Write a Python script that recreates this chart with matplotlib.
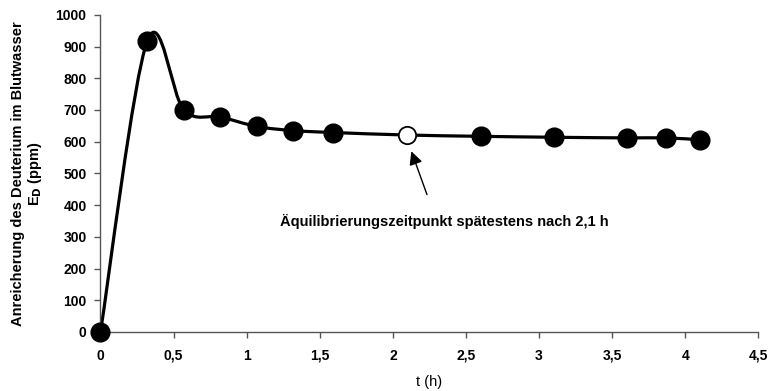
import numpy as np
import matplotlib.pyplot as plt
from matplotlib.path import Path
from matplotlib.patches import PathPatch

plt.rcParams['font.family'] = ['Liberation Sans', 'DejaVu Sans']

# Messzeitpunkte (h) und Deuterium-Anreicherung (ppm)
zeit = [0, 0.32, 0.57, 0.82, 1.07, 1.32, 1.59, 2.1, 2.6, 3.1, 3.6, 3.87, 4.1]
anreicherung = [0, 918, 700, 678, 648, 635, 629, 621, 617, 614, 612, 612, 606]
equil_index = 7

xticks = [0, 0.5, 1, 1.5, 2, 2.5, 3, 3.5, 4, 4.5]
xticklabels = ['0', '0,5', '1', '1,5', '2', '2,5', '3', '3,5', '4', '4,5']
yticks = list(range(0, 1001, 100))


def smooth_path(x, y, t=1 / 6):
    # Catmull-Rom as cubic Bezier, like a spreadsheet "smoothed line"
    pts = np.column_stack([x, y]).astype(float)
    verts = [pts[0]]
    codes = [Path.MOVETO]
    n = len(pts)
    for i in range(n - 1):
        p0 = pts[max(i - 1, 0)]
        p1 = pts[i]
        p2 = pts[i + 1]
        p3 = pts[min(i + 2, n - 1)]
        c1 = p1 + (p2 - p0) * t
        c2 = p2 - (p3 - p1) * t
        verts += [c1, c2, p2]
        codes += [Path.CURVE4] * 3
    return Path(verts, codes)


fig = plt.figure(figsize=(7.73, 3.91), dpi=100)
ax = fig.add_axes([0.13, 0.151, 0.851, 0.811])

ax.add_patch(PathPatch(smooth_path(zeit, anreicherung), facecolor='none',
                       edgecolor='black', lw=2.3, zorder=2))

voll = [i for i in range(len(zeit)) if i != equil_index]
ax.plot([zeit[i] for i in voll], [anreicherung[i] for i in voll], 'o',
        ms=13.5, color='black', zorder=3, clip_on=False)
ax.plot(zeit[equil_index], anreicherung[equil_index], 'o', ms=12.5,
        mfc='white', mec='black', mew=1.3, zorder=3)

ax.annotate('', xy=(2.12, 578), xytext=(2.24, 425),
            arrowprops=dict(arrowstyle='-|>', color='black', lw=1.0,
                            mutation_scale=20))
ax.text(2.35, 347, 'Äquilibrierungszeitpunkt spätestens nach 2,1 h',
        ha='center', va='center', fontsize=10.5, fontweight='bold')

ax.set_xlim(0, 4.5)
ax.set_ylim(0, 1000)
ax.set_xticks(xticks)
ax.set_xticklabels(xticklabels)
ax.set_yticks(yticks)
for lab in ax.get_xticklabels() + ax.get_yticklabels():
    lab.set_fontweight('bold')
ax.tick_params(labelsize=10, length=4, width=1, color='#555555', pad=6)
ax.tick_params(axis='x', pad=8)

ax.spines['top'].set_visible(False)
ax.spines['right'].set_visible(False)
for s in ('left', 'bottom'):
    ax.spines[s].set_color('#555555')
    ax.spines[s].set_linewidth(1)

ax.set_xlabel('t (h)', fontsize=10.5, labelpad=9)
ax.set_ylabel('Anreicherung des Deuterium im Blutwasser\nE$_\\mathbf{D}$ (ppm)',
              fontsize=10.5, fontweight='bold', labelpad=8, linespacing=1.1)

fig.savefig('out.png', dpi=100)
